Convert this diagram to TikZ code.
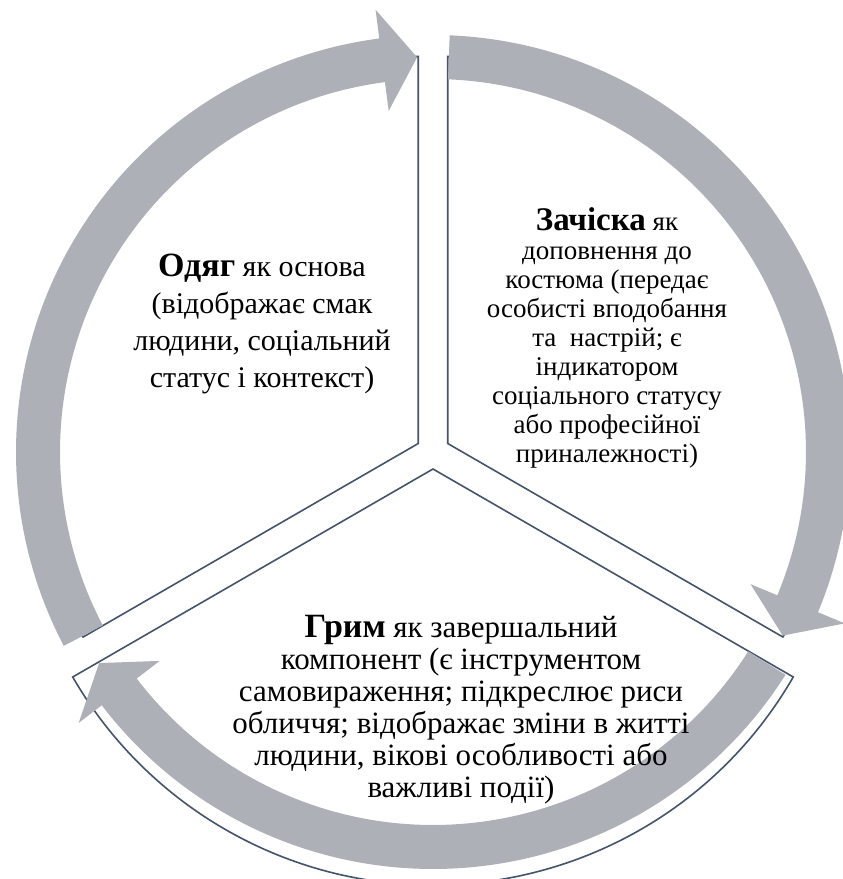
\documentclass[tikz,border=0pt]{standalone}
\usepackage{fontspec}
\setmainfont{Liberation Serif}
\definecolor{arrowgrey}{RGB}{174,176,183}
\definecolor{edgeblue}{RGB}{68,84,106}
\tikzset{
	segment/.style={draw=edgeblue,line width=1.6pt,fill=white,line join=miter},
	cyclearrow/.style={fill=arrowgrey},
	caption/.style={align=center,text=black,inner sep=0pt}
}

\begin{document}
\begin{tikzpicture}[x=1pt,y=1pt]
		\clip (-433,-427) rectangle (410,452);
		\fill[white] (-433,-427) rectangle (410,452);
		
		% three segments of the pie
		\draw[segment] (150:17pt) -- ++(90:387pt) arc[start angle=90, end angle=210, radius=387pt] -- cycle;
		\draw[segment] (30:17pt) -- ++(90:387pt) arc[start angle=90, end angle=-30, radius=387pt] -- cycle;
		\draw[segment] (270:17pt) -- ++(-30:416pt) arc[start angle=-30, end angle=-150, radius=416pt] -- cycle;
		
		% circular arrows
		\fill[cyclearrow] (87.7:417pt) arc[start angle=87.7, end angle=-22.6, radius=417pt]
			-- (-22.6:446pt) -- (-27.7:395pt) -- (-22.6:344pt) -- (-22.6:373pt)
			arc[start angle=-22.6, end angle=87.7, radius=373pt] -- cycle;
		\fill[cyclearrow] (-32.3:417pt) arc[start angle=-32.3, end angle=-142.6, radius=417pt]
			-- (-142.6:446pt) -- (-147.7:395pt) -- (-142.6:344pt) -- (-142.6:373pt)
			arc[start angle=-142.6, end angle=-32.3, radius=373pt] -- cycle;
		\fill[cyclearrow] (207.7:417pt) arc[start angle=207.7, end angle=97.4, radius=417pt]
			-- (97.4:446pt) -- (92.3:395pt) -- (97.4:344pt) -- (97.4:373pt)
			arc[start angle=97.4, end angle=207.7, radius=373pt] -- cycle;
		
		% texts
		\node[caption,font=\fontsize{30}{37}\selectfont] (odyag) at (-171,128)
			{{\fontsize{34}{37}\selectfont\bfseries Одяг} як основа\\(відображає смак\\людини, соціальний\\статус і контекст)};
		\node[caption,font=\fontsize{27}{29}\selectfont] (zachiska) at (174,114)
			{{\fontsize{33}{29}\selectfont\bfseries Зачіска} як\\доповнення до\\костюма (передає\\особисті вподобання\\та\ \ настрій; є\\індикатором\\соціального статусу\\або професійної\\приналежності)};
		\node[caption,font=\fontsize{31}{32}\selectfont] (hrym) at (28,-258)
			{{\fontsize{34}{32}\selectfont\bfseries Грим} як завершальний\\компонент (є інструментом\\самовираження; підкреслює риси\\обличчя; відображає зміни в житті\\людини, вікові особливості або\\важливі події)};
\end{tikzpicture}
\end{document}
